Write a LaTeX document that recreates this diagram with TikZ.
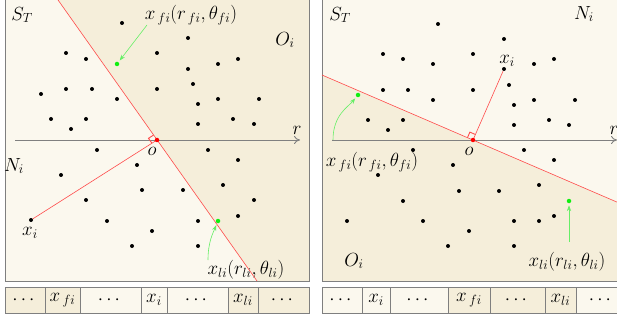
\RequirePackage{fix-cm}
\documentclass[tikz,border=0pt]{standalone}
\usepackage{amsmath,amssymb}
\usetikzlibrary{positioning,arrows.meta,calc}
\definecolor{regiondark}{HTML}{F5EEDA}
\definecolor{regionlight}{HTML}{FBF8EE}
\definecolor{framegray}{HTML}{7F7F7F}
\definecolor{splitred}{HTML}{FF4B4B}
\definecolor{pickgreen}{HTML}{11EE11}
\definecolor{arrowgreen}{HTML}{66EE66}

\begin{document}
\begin{tikzpicture}[
    x=1pt, y=-1pt,
    panel/.style={draw=framegray, line width=0.9pt},
    axis/.style={draw=gray, line width=0.9pt, -{To[length=6pt,width=8pt]}},
    split/.style={draw=splitred, line width=0.6pt},
    anglemark/.style={draw=splitred, line width=0.9pt},
    dot/.style={circle, fill=black, inner sep=0pt, minimum size=4pt},
    origin/.style={circle, fill=red, inner sep=0pt, minimum size=4.5pt},
    pick/.style={circle, fill=pickgreen, inner sep=0pt, minimum size=4.5pt},
    pointer/.style={draw=arrowgreen, line width=0.6pt, ->, shorten >=2pt},
    lbl/.style={inner sep=0pt, font=\fontsize{19}{22}\selectfont},
    cell/.style={draw=framegray, line width=0.9pt, minimum height=26pt,
        inner sep=0pt, outer sep=0pt, font=\fontsize{19}{22}\selectfont},
    >=Stealth
]
\fill[white] (0,0) rectangle (617,320);
\clip (0,0) rectangle (617,320);

% left panel
\coordinate (lo) at (157,140);
\coordinate (ltop) at (54.5,-5);
\coordinate (lbot) at (257,281);
\fill[regionlight] (5,-5) rectangle (309,281);
\fill[regiondark] (ltop) -- (309,-5) -- (309,281) -- (lbot) -- cycle;
\draw[panel] (5,-5) rectangle (309,281);
\draw[axis] (15,140) -- (300,140);
\draw[split] (ltop) -- (lbot);

\foreach \x/\y [count=\k] in {122/23,188/38,66/53,86/59,157/53,218/64,238/59,188/69,
    193/84,41/94,66/89,92/89,157/89,117/99,198/104,218/99,259/99,51/119,86/119,
    71/129,198/124,233/119,254/124,97/150,208/150,238/160,137/165,61/175,223/185,
    142/190,183/190,86/200,254/200,107/221,198/221,238/216,152/231,132/246,198/246}
    \node[dot] (ld\k) at (\x,\y) {};

\node[dot] (lxi) at (31,220) {};
\draw[split] (lxi) -- (lo);
\coordinate (la) at ($(lo)!6pt!(lxi)$);
\coordinate (lb) at ($(lo)!6pt!(ltop)$);
\draw[anglemark] (la) -- ($(la)+(lb)-(lo)$) -- (lb);
\node[origin] (lon) at (lo) {};

\node[pick] (lfi) at (117,64) {};
\node[pick] (lli) at (218,221) {};

\node[lbl] (lst) at (22,15) {$S_T$};
\node[lbl] (loi) at (285,40) {$O_i$};
\node[lbl] (lni) at (14,166) {$N_i$};
\node[lbl] (lr) at (297,130) {$r$};
\node[lbl] (lol) at (152,151) {$o$};
\node[lbl] (lxil) at (30,233) {$x_i$};
\node[lbl] (lfil) at (191,15) {$x_{\,fi}(r_{\,fi},\theta_{fi})$};
\node[lbl] (llil) at (246,270) {$x_{li}(r_{li},\theta_{li})$};

\coordinate (lfitail) at (147,25);
\coordinate (llitail) at (208,260);
\draw[pointer] (lfitail) -- (lfi);
\draw[pointer] (llitail) .. controls +(0,-18) and +(-5,12) .. (lli);

% right panel
\coordinate (ro) at (473,140);
\coordinate (rleft) at (322,75);
\coordinate (rright) at (626,206);
\fill[regionlight] (322,-5) rectangle (626,281);
\fill[regiondark] (rleft) -- (rright) -- (626,281) -- (322,281) -- cycle;
\draw[panel] (322,-5) rectangle (626,281);
\draw[axis] (332,140) -- (617,140);
\draw[split] (rleft) -- (rright);

\foreach \x/\y [count=\k] in {438/24,504/39,383/54,403/59,433/64,473/54,534/64,554/59,
    383/90,408/90,473/90,433/100,509/85,514/105,534/100,575/100,368/120,403/120,
    388/130,514/125,549/120,569/125,413/150,524/150,554/160,453/165,378/175,539/185,
    459/191,499/191,403/201,347/221,423/221,514/221,539/221,554/216,469/231,448/246,514/246}
    \node[dot] (rd\k) at (\x,\y) {};

\node[dot] (rxi) at (504,69) {};
\draw[split] (ro) -- (rxi);
\coordinate (ra) at ($(ro)!6pt!(rxi)$);
\coordinate (rb) at ($(ro)!6pt!(rleft)$);
\draw[anglemark] (ra) -- ($(ra)+(rb)-(ro)$) -- (rb);
\node[origin] (ron) at (ro) {};

\node[pick] (rfi) at (358,95) {};
\node[pick] (rli) at (569,201) {};

\node[lbl] (rst) at (340,15) {$S_T$};
\node[lbl] (rni) at (584,14) {$N_i$};
\node[lbl] (roi) at (354,261) {$O_i$};
\node[lbl] (rr) at (614,130) {$r$};
\node[lbl] (rol) at (469,151) {$o$};
\node[lbl] (rxil) at (507,61) {$x_i$};
\node[lbl] (rfil) at (372,162) {$x_{\,fi}(r_{\,fi},\theta_{fi})$};
\node[lbl] (rlil) at (567,262) {$x_{li}(r_{li},\theta_{li})$};

\coordinate (rfitail) at (333,140);
\coordinate (rlitail) at (569,242);
\draw[pointer] (rfitail) .. controls +(0,-25) and +(-10,12) .. (rfi);
\draw[pointer] (rlitail) -- (rli);

% sequences
\node[cell, fill=regiondark, minimum width=40pt, anchor=west] (lc1) at (5,300) {$\cdots$};
\node[cell, fill=regiondark, minimum width=35pt, right=0pt of lc1] (lc2) {$x_{\,fi}$};
\node[cell, fill=regionlight, minimum width=61pt, right=0pt of lc2] (lc3) {$\cdots$};
\node[cell, fill=regionlight, minimum width=26pt, right=0pt of lc3] (lc4) {$x_i$};
\node[cell, fill=regionlight, minimum width=61pt, right=0pt of lc4] (lc5) {$\cdots$};
\node[cell, fill=regiondark, minimum width=30pt, right=0pt of lc5] (lc6) {$x_{li}$};
\node[cell, fill=regiondark, minimum width=51pt, right=0pt of lc6] (lc7) {$\cdots$};

\node[cell, fill=regionlight, minimum width=40pt, anchor=west] (rc1) at (322,300) {$\cdots$};
\node[cell, fill=regionlight, minimum width=28pt, right=0pt of rc1] (rc2) {$x_i$};
\node[cell, fill=regionlight, minimum width=58pt, right=0pt of rc2] (rc3) {$\cdots$};
\node[cell, fill=regiondark, minimum width=42pt, right=0pt of rc3] (rc4) {$x_{\,fi}$};
\node[cell, fill=regiondark, minimum width=55pt, right=0pt of rc4] (rc5) {$\cdots$};
\node[cell, fill=regiondark, minimum width=31pt, right=0pt of rc5] (rc6) {$x_{li}$};
\node[cell, fill=regionlight, minimum width=51pt, right=0pt of rc6] (rc7) {$\cdots$};
\end{tikzpicture}
\end{document}
